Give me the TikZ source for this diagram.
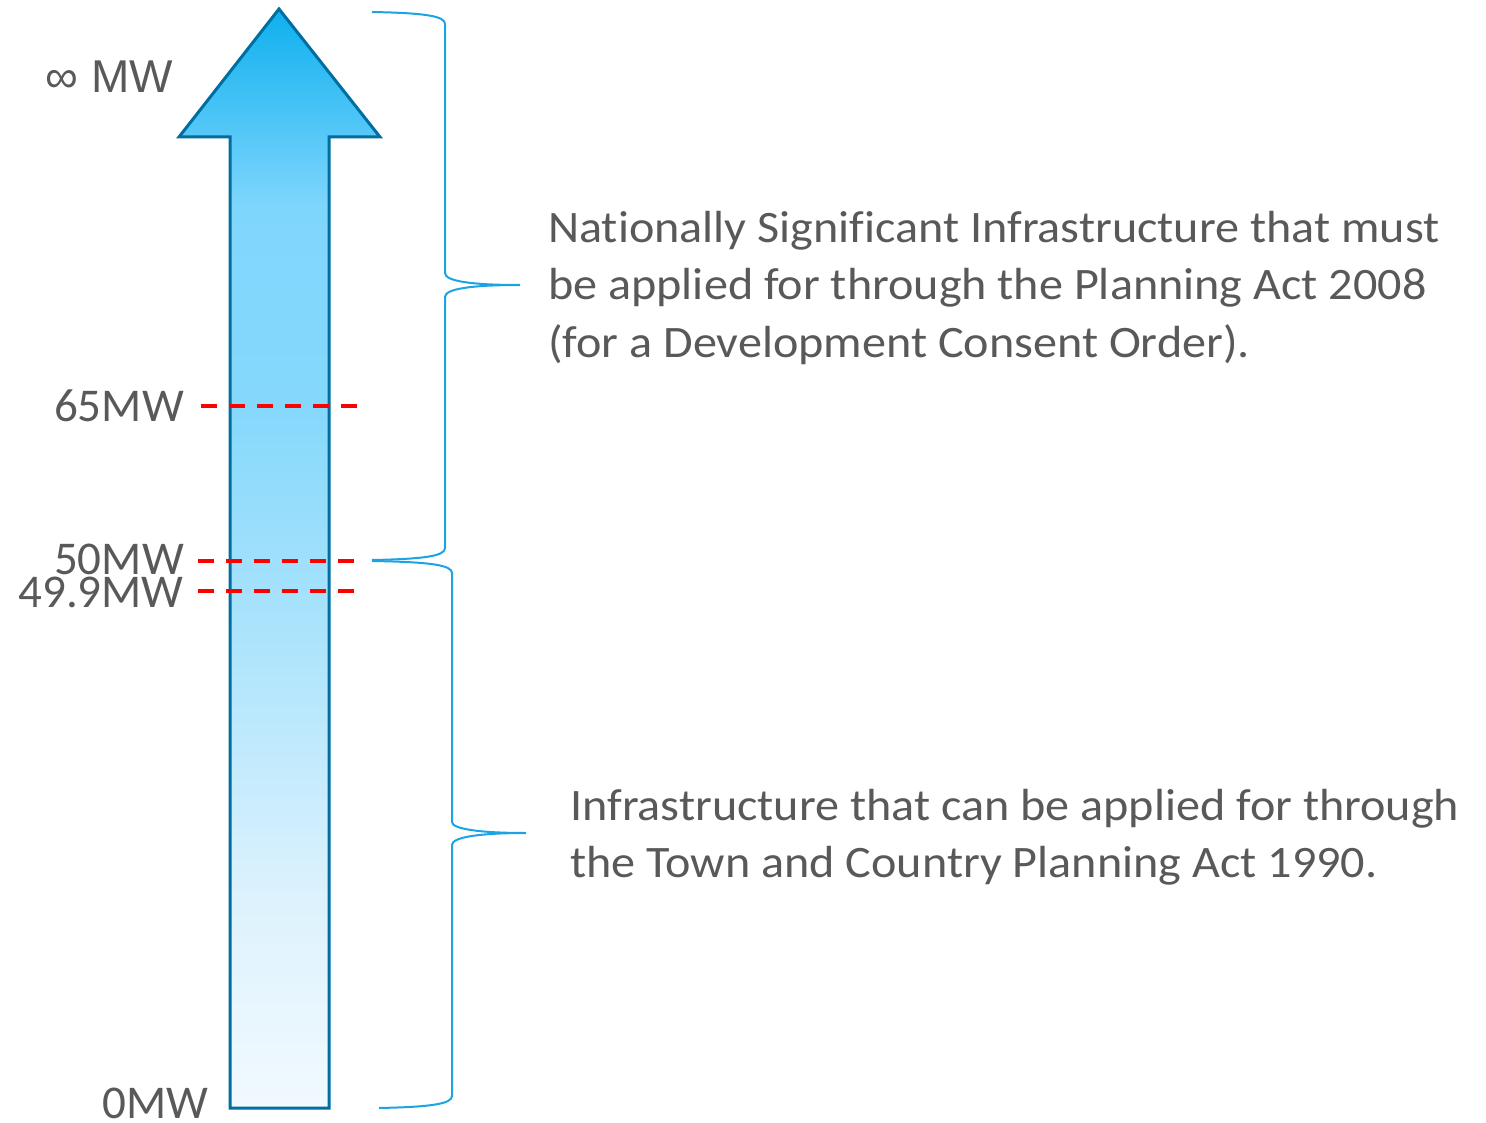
\documentclass[tikz,border=0pt]{standalone}
\usepackage{fontspec}
\setmainfont{Carlito}[Ligatures=NoCommon]
\newfontfamily\descfont{Carlito}[Ligatures=NoCommon, FakeStretch=1.07]
\newfontfamily\arialf{Liberation Sans}
\definecolor{txtgray}{HTML}{595959}
\definecolor{arrowline}{HTML}{006EA0}
\definecolor{bracecol}{HTML}{1BA3E3}
\definecolor{sA}{HTML}{0EB0EE}
\definecolor{sB}{HTML}{7FD6FD}
\definecolor{sC}{HTML}{85D8FC}
\definecolor{sD}{HTML}{A6E2FC}
\definecolor{sE}{HTML}{DDF2FD}
\definecolor{sF}{HTML}{F2F9FF}
\pgfdeclareverticalshading{arrowshade}{100bp}{color(0bp)=(sF); color(25bp)=(sF); color(34.5bp)=(sE); color(48bp)=(sD); color(57bp)=(sC); color(66bp)=(sB); color(75bp)=(sA); color(100bp)=(sA)}
\begin{document}
\begin{tikzpicture}[x=1pt,y=-1pt,
  lbl/.style={text=txtgray, font=\fontsize{47}{56}\selectfont, inner sep=0pt},
  desc/.style={text=txtgray, font=\descfont\fontsize{45}{57}\selectfont, inner sep=0pt, align=left},
  redline/.style={draw=red, line width=4pt, dash pattern=on 16pt off 12pt},
  bracestyle/.style={draw=bracecol, line width=2pt}]
\useasboundingbox (0,0) rectangle (1486,1123);
% arrow
\path[shade, shading=arrowshade, draw=arrowline, line width=3pt, line join=miter]
  (279,9) -- (380,137) -- (329,137) -- (329,1108) -- (230,1108) -- (230,137) -- (179,137) -- cycle;
% labels
\node[lbl, anchor=base east, font=\arialf\fontsize{46}{56}\selectfont] (linf) at (173,93) {∞ MW};
\node[lbl, anchor=base east] (l65) at (184,421) {65MW};
\node[lbl, anchor=base east] (l50) at (184,574) {50MW};
\node[lbl, anchor=base east] (l49) at (184,607) {49.9MW};
\node[lbl, anchor=base east] (l0) at (209,1118) {0MW};
% dashed lines
\coordinate (d65a) at (201,406); \coordinate (d65b) at (357,406);
\coordinate (d50a) at (198,561); \coordinate (d50b) at (355,561);
\coordinate (d49a) at (198,591); \coordinate (d49b) at (355,591);
\draw[redline] (d65a) -- (d65b);
\draw[redline] (d50a) -- (d50b);
\draw[redline] (d49a) -- (d49b);
% upper brace
\coordinate (ub1) at (372,12);
\coordinate (ubtip) at (520,285);
\coordinate (ub2) at (372,560);
\draw[bracestyle] (ub1) .. controls (425,13) and (445,16) .. (445,24) -- (445,273)
  .. controls (445,281) and (470,285) .. (ubtip)
  .. controls (470,285) and (445,289) .. (445,297) -- (445,548)
  .. controls (445,556) and (425,559) .. (ub2);
% lower brace
\coordinate (lb1) at (372,561);
\coordinate (lbtip) at (526,833);
\coordinate (lb2) at (379,1108);
\draw[bracestyle] (lb1) .. controls (430,562) and (452,565) .. (452,573) -- (452,822)
  .. controls (452,829) and (480,833) .. (lbtip)
  .. controls (480,833) and (452,837) .. (452,845) -- (452,1096)
  .. controls (452,1104) and (430,1107) .. (lb2);
% descriptions
\node[desc, anchor=base west] (t1a) at (548,243) {Nationally Significant Infrastructure that must};
\node[desc, anchor=base west] (t1b) at (548,300) {be applied for through the Planning Act 2008};
\node[desc, anchor=base west] (t1c) at (548,357) {(for a Development Consent Order).};
\node[desc, anchor=base west] (t2a) at (570,820) {Infrastructure that can be applied for through};
\node[desc, anchor=base west] (t2b) at (570,877) {the Town and Country Planning Act 1990.};
\end{tikzpicture}
\end{document}
